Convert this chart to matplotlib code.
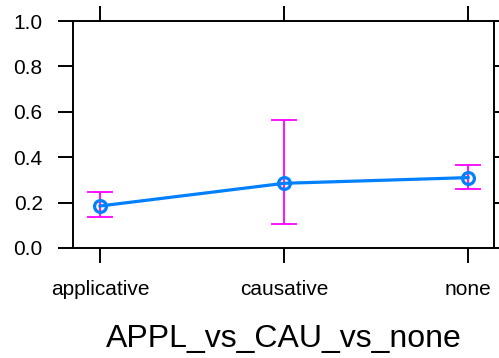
import matplotlib
matplotlib.use("Agg")
import matplotlib.pyplot as plt

plt.rcParams['font.family'] = ['Liberation Sans', 'DejaVu Sans']

categories = ["applicative", "causative", "none"]
fit = [0.185, 0.285, 0.310]
lower = [0.137, 0.106, 0.259]
upper = [0.248, 0.564, 0.367]


def main():
    fig = plt.figure(figsize=(4.99, 3.58), dpi=100)
    ax = fig.add_axes([0.1463, 0.3073, 0.8437, 0.634])

    xs = list(range(len(categories)))
    err_lo = [f - l for f, l in zip(fit, lower)]
    err_hi = [u - f for f, u in zip(fit, upper)]

    ax.errorbar(xs, fit, yerr=[err_lo, err_hi], fmt="none", ecolor="#FF00FF",
                elinewidth=1.3, capsize=9.4, capthick=1.3, zorder=2)
    ax.plot(xs, fit, color="#0080FF", linewidth=2.3, marker="o",
            markersize=8.5, markerfacecolor="none", markeredgewidth=2.3,
            markeredgecolor="#0080FF", zorder=3)

    ax.set_xlim(-0.147, 2.141)
    ax.set_ylim(0, 1)
    ax.set_xticks(xs)
    ax.set_xticklabels(categories)
    ax.set_yticks([0.0, 0.2, 0.4, 0.6, 0.8, 1.0])
    ax.set_yticklabels(["0.0", "0.2", "0.4", "0.6", "0.8", "1.0"])

    ax.tick_params(axis="both", direction="out", length=10.8, width=1.4,
                   labelsize=15, colors="black")
    ax.tick_params(axis="y", pad=11, right=True)
    ax.tick_params(axis="x", pad=12, top=True)
    for s in ax.spines.values():
        s.set_linewidth(1.4)

    ax.set_xlabel("APPL_vs_CAU_vs_none", fontsize=23, labelpad=18)

    fig.savefig("out.png", dpi=100)


if __name__ == "__main__":
    main()
